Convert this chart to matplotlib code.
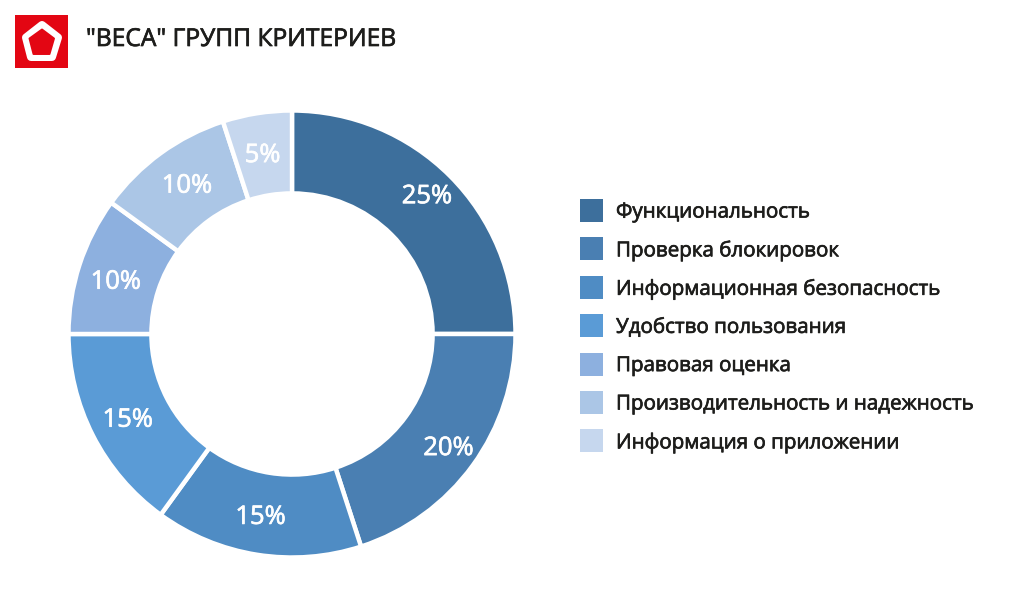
import math
import matplotlib
matplotlib.use("Agg")
import matplotlib.pyplot as plt
import matplotlib.patheffects as pe
from matplotlib.patches import Rectangle, Polygon

plt.rcParams["font.family"] = ["Open Sans", "DejaVu Sans"]

labels = ["Функциональность", "Проверка блокировок", "Информационная безопасность",
          "Удобство пользования", "Правовая оценка",
          "Производительность и надежность", "Информация о приложении"]
values = [25, 20, 15, 15, 10, 10, 5]
colors = ["#3d6f9c", "#4a7fb2", "#4f8cc4", "#5a9bd6", "#8db0df", "#abc6e6", "#c6d7ee"]
title = '"ВЕСА" ГРУПП КРИТЕРИЕВ'

# small pixel shifts of the percent labels
nudge_x = [6, 9, -3, -2, -3, 2, -1]
nudge_y = [-10, 6, 2, 2, 3, -2, 0]

W, H = 1024, 602
dark = "#1d1d1b"
fig = plt.figure(figsize=(W / 100, H / 100), dpi=100, facecolor="white")

# overlay in pixel coordinates for logo, title and legend
bg = fig.add_axes([0, 0, 1, 1])
bg.set_xlim(0, W)
bg.set_ylim(H, 0)
bg.axis("off")

# logo
bg.add_patch(Rectangle((15, 15), 53, 53, color="#e30613", lw=0))
bg.add_patch(Polygon([(42, 25), (58, 37.5), (52, 57), (31, 57), (26, 37.5)],
                     closed=True, fc="white", ec="white", lw=5.76, joinstyle="round"))
bg.add_patch(Polygon([(42, 29.5), (54, 38.5), (49.5, 54), (33.5, 54), (29.5, 38.5)],
                     closed=True, fc="#e30613", ec="#e30613", lw=1.4, joinstyle="round"))
heavy = [pe.withStroke(linewidth=0.5, foreground=dark)]
bg.text(86, 39.5, title, fontsize=17.7, color=dark, va="center", ha="left", path_effects=heavy)

# donut
cx, cy, r = 292, 334, 223.5
ax = fig.add_axes([(cx - r) / W, 1 - (cy + r) / H, 2 * r / W, 2 * r / H])
wedges, texts = ax.pie(values, colors=colors, startangle=90, counterclock=False, radius=1,
                       wedgeprops=dict(width=0.371, edgecolor="white", linewidth=3.2))
ax.set_xlim(-1, 1)
ax.set_ylim(-1, 1)

# percent labels
start = 90.0
for v, nx, ny in zip(values, nudge_x, nudge_y):
    mid = math.radians(start - v * 3.6 / 2)
    ax.annotate(f"{v}%", (0.815 * math.cos(mid), 0.815 * math.sin(mid)),
                xytext=(nx * 0.72, -(ny + 1.5) * 0.72), textcoords="offset points",
                color="white", fontsize=18.4, ha="center", va="center",
                path_effects=[pe.withStroke(linewidth=0.5, foreground="white")])
    start -= v * 3.6

# legend
for i, (lab, col) in enumerate(zip(labels, colors)):
    y = 210.5 + i * 38.4
    bg.add_patch(Rectangle((580, y - 11.5), 23, 23, color=col, lw=0))
    bg.text(616, y + 1.5, lab, fontsize=14.8, color=dark, va="center", ha="left", path_effects=heavy)

fig.savefig("out.png", dpi=100)
